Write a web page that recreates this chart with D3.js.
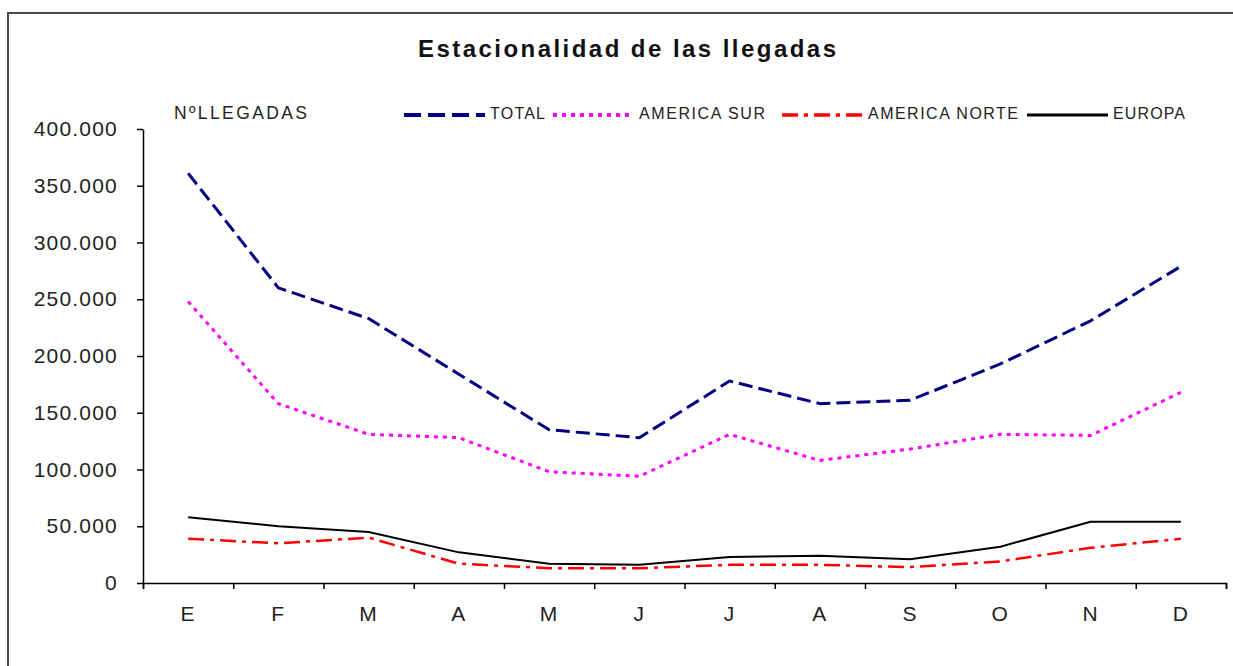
<!DOCTYPE html>
<html>
<head>
<meta charset="utf-8">
<script src="https://cdn.jsdelivr.net/npm/d3@7"></script>
<style>
  body { margin: 0; background: #fff; }
  svg { display: block; font-family: "Liberation Sans", Arial, sans-serif; }
  .axis path, .axis line { stroke: #000; stroke-width: 1.5; }
  .axis text { fill: #222; font-size: 21px; letter-spacing: 1.2px; }
</style>
</head>
<body>
<script>
(function(){

//data
var months = ["E", "F", "M", "A", "M", "J", "J", "A", "S", "O", "N", "D"];
var total = [361000, 260000, 233000, 184000, 135000, 128000, 178000, 158000, 161000, 193000, 231000, 279000];
var americaSur = [248000, 158000, 131000, 128000, 98000, 94000, 131000, 108000, 118000, 131000, 130000, 168000];
var americaNorte = [39000, 35000, 40000, 17000, 13000, 13000, 16000, 16000, 14000, 19000, 31000, 39000];
var europa = [58000, 50000, 45000, 27000, 17000, 16000, 23000, 24000, 21000, 32000, 54000, 54000];
var yTicks = [0, 50000, 100000, 150000, 200000, 250000, 300000, 350000, 400000];

var seriesNames = ["TOTAL", "AMERICA SUR", "AMERICA NORTE", "EUROPA"];
var seriesValues = [total, americaSur, americaNorte, europa];

//line styles per series
var styles = [
  {color: "#000080", width: 3, dash: "14,6"},
  {color: "#FF00FF", width: 3, dash: "4,5"},
  {color: "#FF0000", width: 2.5, dash: "16,6,4,6"},
  {color: "#000000", width: 2, dash: null}
];

var width = 1233, height = 666;
var left = 143, right = 1226, top = 129, bottom = 583;

var svg = d3.select("body")
  .append("svg")
  .attr("width", width)
  .attr("height", height);

//outer frame (top + left edges visible)
svg.append("path")
  .attr("d", "M8,666V13H1233")
  .attr("fill", "none")
  .attr("stroke", "#4a4a4a")
  .attr("stroke-width", 2);

//title
svg.append("text")
  .attr("x", 627)
  .attr("y", 57)
  .attr("text-anchor", "middle")
  .attr("font-size", 24)
  .attr("font-weight", "bold")
  .attr("fill", "#111")
  .attr("textLength", 418)
  .attr("lengthAdjust", "spacing")
  .text("Estacionalidad de las llegadas");

//scales
var x = d3.scaleBand()
  .domain(d3.range(months.length))
  .range([left, right]);

var xEdges = d3.scaleLinear()
  .domain([0, months.length])
  .range([left, right]);

var y = d3.scaleLinear()
  .domain([0, 400000])
  .range([bottom, top]);

var loc = d3.formatLocale({decimal: ",", thousands: ".", grouping: [3], currency: ["", ""]});
var fmt = loc.format(",");

//y axis
svg.append("g")
  .attr("class", "axis")
  .attr("transform", "translate(" + left + ",0)")
  .call(d3.axisLeft(y).tickValues(yTicks).tickFormat(fmt).tickSize(6).tickSizeOuter(0).tickPadding(19));

//x axis: ticks at category edges, labels at centers
svg.append("g")
  .attr("class", "axis")
  .attr("transform", "translate(0," + bottom + ")")
  .call(d3.axisBottom(xEdges).ticks(12).tickFormat("").tickSize(6).tickSizeOuter(6));

var xLabels = svg.append("g")
  .attr("class", "axis")
  .attr("transform", "translate(0," + bottom + ")")
  .call(d3.axisBottom(x).tickFormat(function(i){ return months[i]; }).tickSize(0).tickPadding(23));
xLabels.select(".domain").remove();

//lines
var line = d3.line()
  .x(function(d, i){ return x(i) + x.bandwidth() / 2; })
  .y(function(d){ return y(d); });

svg.selectAll(".series")
  .data(seriesValues)
  .enter()
  .append("path")
  .attr("class", "series")
  .attr("d", line)
  .attr("fill", "none")
  .attr("stroke", function(d, i){ return styles[i].color; })
  .attr("stroke-width", function(d, i){ return styles[i].width; })
  .attr("stroke-dasharray", function(d, i){ return styles[i].dash; })
  .attr("stroke-linejoin", "round");

//legend
svg.append("text")
  .attr("x", 174)
  .attr("y", 119)
  .attr("font-size", 17.5)
  .attr("fill", "#222")
  .attr("textLength", 133)
  .attr("lengthAdjust", "spacing")
  .text("NºLLEGADAS");

var legendX = [404, 553, 782, 1027];
var legendTextLen = [55, 126, 150, 72];
var legend = svg.selectAll(".legend")
  .data(seriesNames)
  .enter()
  .append("g")
  .attr("class", "legend")
  .attr("transform", function(d, i){ return "translate(" + legendX[i] + ",115)"; });

legend.append("line")
  .attr("x1", 0)
  .attr("x2", 81)
  .attr("stroke", function(d, i){ return styles[i].color; })
  .attr("stroke-width", function(d, i){ return styles[i].width + 1; })
  .attr("stroke-dasharray", function(d, i){ return i == 0 ? "17,7" : styles[i].dash; });

legend.append("text")
  .attr("x", 86)
  .attr("y", 4)
  .attr("font-size", 16)
  .attr("fill", "#222")
  .attr("textLength", function(d, i){ return legendTextLen[i]; })
  .attr("lengthAdjust", "spacing")
  .text(function(d){ return d; });

})();
</script>
</body>
</html>
